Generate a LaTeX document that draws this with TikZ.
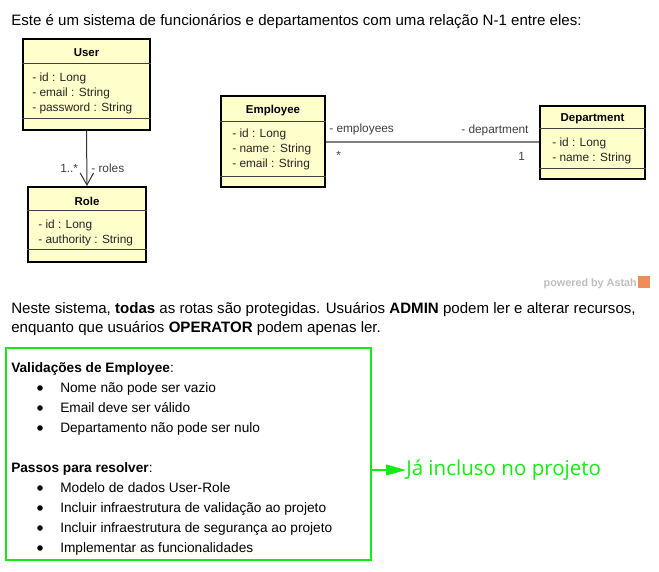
\documentclass[tikz,border=0pt]{standalone}
\usepackage{fontspec}
\setmainfont{Liberation Sans}
\newfontfamily\greenfont{Open Sans}
\usetikzlibrary{arrows.meta,fit}
\definecolor{umlfill}{RGB}{255,255,204}
\definecolor{gbright}{RGB}{20,235,20}
\definecolor{connline}{RGB}{128,128,128}
\definecolor{connlabel}{RGB}{64,64,64}
\definecolor{astahgray}{RGB}{190,190,190}
\definecolor{astahorange}{RGB}{240,140,90}
\begin{document}
\begin{tikzpicture}[x=0.75pt,y=-0.75pt,
  txt/.style={anchor=base west,inner sep=0,font=\fontsize{11.3}{13}\selectfont},
  btxt/.style={anchor=base west,inner sep=0,font=\fontsize{10.25}{12}\selectfont},
  uml/.style={anchor=base west,inner sep=0,text=black!85,font=\fontsize{8.9}{10}\selectfont},
  umlh/.style={anchor=base,inner sep=0,font=\fontsize{8.6}{10}\selectfont\bfseries},
  clslabel/.style={anchor=base west,inner sep=0,text=connlabel,font=\fontsize{8.9}{10}\selectfont},
  cls/.style={draw=black,line width=1.5pt,fill=umlfill,inner sep=0},
  sep/.style={draw=black!75,line width=0.75pt},
  bul/.style={circle,fill=black,inner sep=0,minimum size=4.2pt},
]
\useasboundingbox (0,0) rectangle (659,571);

% top text
\node[txt] (intro) at (11,26) {Este é um sistema de funcionários e departamentos com uma relação N-1 entre eles:};

% User
\node[cls,fit={(23,39)(150,130)}] (user) {};
\draw[sep] (user.west |- 0,63) -- (user.east |- 0,63);
\draw[sep] (user.west |- 0,118) -- (user.east |- 0,118);
\node[umlh] (userh) at (86.5,56) {User};
\node[uml] (user1) at (32,81) {- id : Long};
\node[uml] (user2) at (32,96) {- email : String};
\node[uml] (user3) at (32,111) {- password : String};

% Role
\node[cls,fit={(28,187)(146,262)}] (role) {};
\draw[sep] (role.west |- 0,210) -- (role.east |- 0,210);
\draw[sep] (role.west |- 0,249) -- (role.east |- 0,249);
\node[umlh] (roleh) at (87,205) {Role};
\node[uml] (role1) at (38,228) {- id : Long};
\node[uml] (role2) at (38,243) {- authority : String};

\draw[black!80,line width=0.75pt,-{Straight Barb[length=9pt,width=10pt,line width=0.75pt]}] (user.south) -- (role.north);
\node[clslabel] (mult1) at (60,172) {1..*};
\node[clslabel] (roles) at (91,172) {- roles};

% Employee
\node[cls,fit={(221,96)(325,187)}] (emp) {};
\draw[sep] (emp.west |- 0,121) -- (emp.east |- 0,121);
\draw[sep] (emp.west |- 0,176) -- (emp.east |- 0,176);
\node[umlh] (emph) at (273,113) {Employee};
\node[uml] (emp1) at (232,137) {- id : Long};
\node[uml] (emp2) at (232,152) {- name : String};
\node[uml] (emp3) at (232,167) {- email : String};

% Department
\node[cls,fit={(540,106)(645,179)}] (dept) {};
\draw[sep] (dept.west |- 0,128) -- (dept.east |- 0,128);
\draw[sep] (dept.west |- 0,168) -- (dept.east |- 0,168);
\node[umlh] (depth) at (592.5,121) {Department};
\node[uml] (dept1) at (552,146) {- id : Long};
\node[uml] (dept2) at (552,161) {- name : String};

\draw[connline,line width=1pt] (emp.east |- 0,142) -- (dept.west |- 0,142);
\node[clslabel] (lemp) at (329,132) {- employees};
\node[clslabel] (lstar) at (336,159) {*};
\node[clslabel] (ldept) at (461,133) {- department};
\node[clslabel] (lone) at (518,160) {1};

% powered by Astah
\node[anchor=base east,inner sep=0,text=astahgray,font=\fontsize{8.1}{9}\selectfont\bfseries] (astah) at (637,286) {powered by Astah};
\fill[astahorange] (638,276) rectangle (650,288);

% paragraph
\node[txt] (p1) at (11,313) {Neste sistema, \textbf{todas} as rotas são protegidas. Usuários \textbf{ADMIN} podem ler e alterar recursos,};
\node[txt] (p2) at (11,332) {enquanto que usuários \textbf{OPERATOR} podem apenas ler.};

% green box
\node[draw=gbright,line width=1.5pt,inner sep=0,fit={(6,348)(371,560)}] (gbox) {};
\node[btxt] (h1) at (11,372) {\textbf{Validações de Employee}:};
\node[bul] (b1) at (40,388) {};
\node[btxt] (t1) at (60,392) {Nome não pode ser vazio};
\node[bul] (b2) at (40,408) {};
\node[btxt] (t2) at (60,412) {Email deve ser válido};
\node[bul] (b3) at (40,428) {};
\node[btxt] (t3) at (60,432) {Departamento não pode ser nulo};
\node[btxt] (h2) at (11,472) {\textbf{Passos para resolver}:};
\node[bul] (b4) at (40,488) {};
\node[btxt] (t4) at (60,492) {Modelo de dados User-Role};
\node[bul] (b5) at (40,508) {};
\node[btxt] (t5) at (60,512) {Incluir infraestrutura de validação ao projeto};
\node[bul] (b6) at (40,528) {};
\node[btxt] (t6) at (60,532) {Incluir infraestrutura de segurança ao projeto};
\node[bul] (b7) at (40,548) {};
\node[btxt] (t7) at (60,552) {Implementar as funcionalidades};

\node[anchor=west,inner sep=0,text=gbright,font=\greenfont\fontsize{15.4}{17}\selectfont] (ja) at (406,470) {Já incluso no projeto};
\draw[gbright,line width=1.5pt,-{Triangle[length=15pt,width=8pt]}] (gbox.east |- ja.west) -- (ja.west);
\end{tikzpicture}
\end{document}
